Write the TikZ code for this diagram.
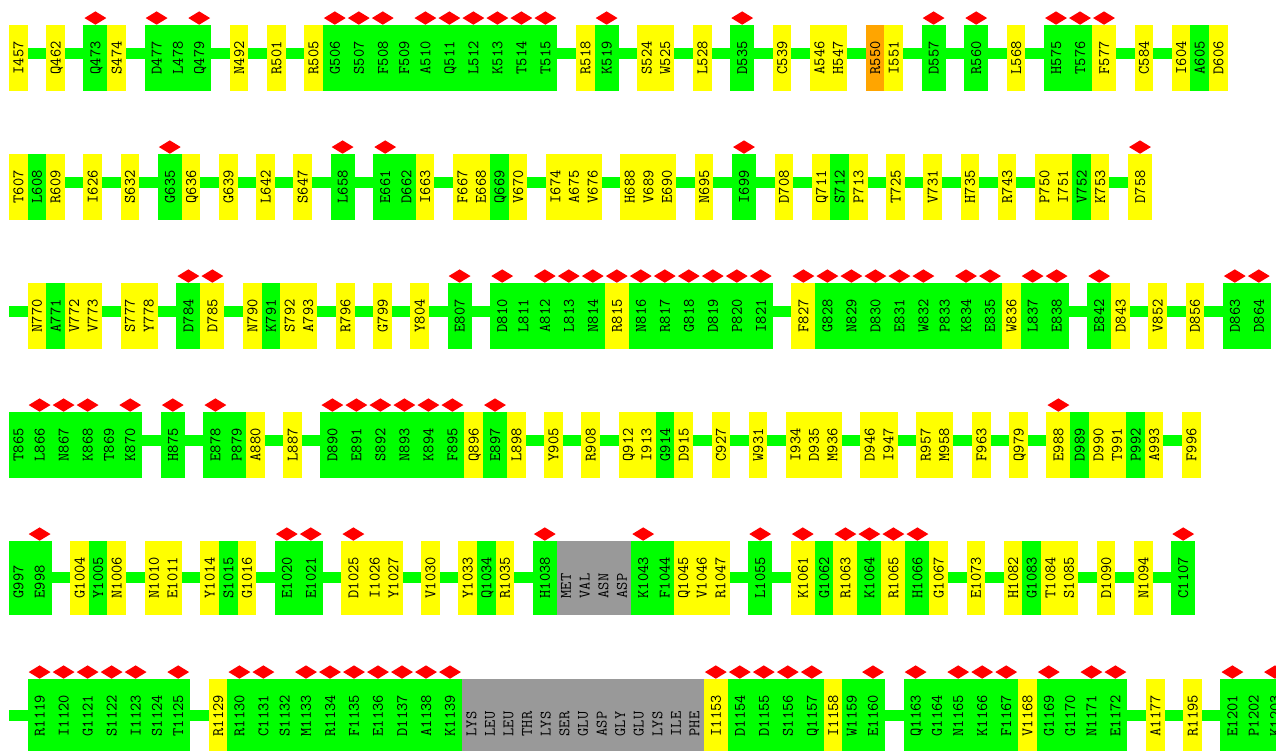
\documentclass[tikz,border=0pt]{standalone}
\usepackage{graphicx}
\usepackage{xcolor}
\usepackage{tikz}
\usetikzlibrary{positioning,shapes.geometric,backgrounds}

\definecolor{resgreen}{RGB}{0,255,0}
\definecolor{resyellow}{RGB}{255,255,0}
\definecolor{resorange}{RGB}{255,165,0}
\definecolor{resgray}{RGB}{153,153,153}

\newcommand{\rlab}[1]{\rotatebox{90}{\raisebox{0pt}[\height][0pt]{#1}}}

\tikzset{
  res/.style={rectangle,inner sep=0pt,outer sep=0pt,minimum width=18.6pt,minimum height=66pt,
    text height=32.5pt,text depth=0pt,font=\fontsize{16}{16}\selectfont\ttfamily,label distance=0.7pt},
  resl/.style={res,minimum height=74pt,text height=40.5pt},
  grn/.style={fill=resgreen},
  yel/.style={fill=resyellow},
  org/.style={fill=resorange},
  gry/.style={fill=resgray,text=black},
  hit/.style={minimum width=24pt,label={[contact]north:}},
  contact/.style={diamond,fill=red,inner sep=0pt,minimum width=22pt,minimum height=13.5pt},
  backbone/.style={draw=resgreen,line width=11pt}
}

\begin{document}
\begin{tikzpicture}[x=1pt,y=1pt,node distance=0pt]
  \useasboundingbox (0,0) rectangle (1276,-751);
  % row 1
  \node[res,yel,anchor=north west] (I457) at (9,-25) {\rlab{I457}};
  \node[res,yel,right=18.6pt of I457] (Q462) {\rlab{Q462}};
  \node[res,grn,hit,right=18.6pt of Q462] (Q473) {\rlab{Q473}};
  \node[res,yel,right=of Q473] (S474) {\rlab{S474}};
  \node[res,grn,hit,right=18.6pt of S474] (D477) {\rlab{D477}};
  \node[res,grn,right=of D477] (L478) {\rlab{L478}};
  \node[res,grn,hit,right=of L478] (Q479) {\rlab{Q479}};
  \node[res,yel,right=18.6pt of Q479] (N492) {\rlab{N492}};
  \node[res,yel,right=18.6pt of N492] (R501) {\rlab{R501}};
  \node[res,yel,right=18.6pt of R501] (R505) {\rlab{R505}};
  \node[res,grn,hit,right=of R505] (G506) {\rlab{G506}};
  \node[res,grn,hit,right=of G506] (S507) {\rlab{S507}};
  \node[res,grn,hit,right=of S507] (F508) {\rlab{F508}};
  \node[res,grn,right=of F508] (F509) {\rlab{F509}};
  \node[res,grn,hit,right=of F509] (A510) {\rlab{A510}};
  \node[res,grn,hit,right=of A510] (Q511) {\rlab{Q511}};
  \node[res,grn,hit,right=of Q511] (L512) {\rlab{L512}};
  \node[res,grn,hit,right=of L512] (K513) {\rlab{K513}};
  \node[res,grn,hit,right=of K513] (T514) {\rlab{T514}};
  \node[res,grn,hit,right=of T514] (T515) {\rlab{T515}};
  \node[res,yel,right=18.6pt of T515] (R518) {\rlab{R518}};
  \node[res,grn,hit,right=of R518] (K519) {\rlab{K519}};
  \node[res,yel,right=18.6pt of K519] (S524) {\rlab{S524}};
  \node[res,yel,right=of S524] (W525) {\rlab{W525}};
  \node[res,yel,right=18.6pt of W525] (L528) {\rlab{L528}};
  \node[res,grn,hit,right=18.6pt of L528] (D535) {\rlab{D535}};
  \node[res,yel,right=18.6pt of D535] (C539) {\rlab{C539}};
  \node[res,yel,right=18.6pt of C539] (A546) {\rlab{A546}};
  \node[res,yel,right=of A546] (H547) {\rlab{H547}};
  \node[res,org,right=18.6pt of H547] (R550) {\rlab{R550}};
  \node[res,yel,right=of R550] (I551) {\rlab{I551}};
  \node[res,grn,hit,right=18.6pt of I551] (D557) {\rlab{D557}};
  \node[res,grn,hit,right=18.6pt of D557] (R560) {\rlab{R560}};
  \node[res,yel,right=18.6pt of R560] (L568) {\rlab{L568}};
  \node[res,grn,hit,right=18.6pt of L568] (H575) {\rlab{H575}};
  \node[res,grn,hit,right=of H575] (T576) {\rlab{T576}};
  \node[res,yel,hit,right=of T576] (F577) {\rlab{F577}};
  \node[res,yel,right=18.6pt of F577] (C584) {\rlab{C584}};
  \node[res,yel,right=18.6pt of C584] (I604) {\rlab{I604}};
  \node[res,grn,right=of I604] (A605) {\rlab{A605}};
  \node[res,yel,right=of A605] (D606) {\rlab{D606}};
  % row 2
  \node[res,yel,anchor=north west] (T607) at (9,-154) {\rlab{T607}};
  \node[res,grn,right=of T607] (L608) {\rlab{L608}};
  \node[res,yel,right=of L608] (R609) {\rlab{R609}};
  \node[res,yel,right=18.6pt of R609] (I626) {\rlab{I626}};
  \node[res,yel,right=18.6pt of I626] (S632) {\rlab{S632}};
  \node[res,grn,hit,right=18.6pt of S632] (G635) {\rlab{G635}};
  \node[res,yel,right=of G635] (Q636) {\rlab{Q636}};
  \node[res,yel,right=18.6pt of Q636] (G639) {\rlab{G639}};
  \node[res,yel,right=18.6pt of G639] (L642) {\rlab{L642}};
  \node[res,yel,right=18.6pt of L642] (S647) {\rlab{S647}};
  \node[res,grn,hit,right=18.6pt of S647] (L658) {\rlab{L658}};
  \node[res,grn,hit,right=18.6pt of L658] (E661) {\rlab{E661}};
  \node[res,grn,right=of E661] (D662) {\rlab{D662}};
  \node[res,yel,right=of D662] (I663) {\rlab{I663}};
  \node[res,yel,right=18.6pt of I663] (F667) {\rlab{F667}};
  \node[res,yel,right=of F667] (E668) {\rlab{E668}};
  \node[res,grn,right=of E668] (Q669) {\rlab{Q669}};
  \node[res,yel,right=of Q669] (V670) {\rlab{V670}};
  \node[res,yel,right=18.6pt of V670] (I674) {\rlab{I674}};
  \node[res,yel,right=of I674] (A675) {\rlab{A675}};
  \node[res,yel,right=of A675] (V676) {\rlab{V676}};
  \node[res,yel,right=18.6pt of V676] (H688) {\rlab{H688}};
  \node[res,yel,right=of H688] (V689) {\rlab{V689}};
  \node[res,yel,right=of V689] (E690) {\rlab{E690}};
  \node[res,yel,right=18.6pt of E690] (N695) {\rlab{N695}};
  \node[res,grn,hit,right=18.6pt of N695] (I699) {\rlab{I699}};
  \node[res,yel,right=18.6pt of I699] (D708) {\rlab{D708}};
  \node[res,yel,right=18.6pt of D708] (Q711) {\rlab{Q711}};
  \node[res,grn,right=of Q711] (S712) {\rlab{S712}};
  \node[res,yel,right=of S712] (P713) {\rlab{P713}};
  \node[res,yel,right=18.6pt of P713] (T725) {\rlab{T725}};
  \node[res,yel,right=18.6pt of T725] (V731) {\rlab{V731}};
  \node[res,yel,right=18.6pt of V731] (H735) {\rlab{H735}};
  \node[res,yel,right=18.6pt of H735] (R743) {\rlab{R743}};
  \node[res,yel,right=18.6pt of R743] (P750) {\rlab{P750}};
  \node[res,yel,right=of P750] (I751) {\rlab{I751}};
  \node[res,grn,right=of I751] (V752) {\rlab{V752}};
  \node[res,yel,right=of V752] (K753) {\rlab{K753}};
  \node[res,yel,hit,right=18.6pt of K753] (D758) {\rlab{D758}};
  % row 3
  \node[res,yel,anchor=north west] (N770) at (27.6,-283) {\rlab{N770}};
  \node[res,grn,right=of N770] (A771) {\rlab{A771}};
  \node[res,yel,right=of A771] (V772) {\rlab{V772}};
  \node[res,yel,right=of V772] (V773) {\rlab{V773}};
  \node[res,yel,right=18.6pt of V773] (S777) {\rlab{S777}};
  \node[res,yel,right=of S777] (Y778) {\rlab{Y778}};
  \node[res,grn,hit,right=18.6pt of Y778] (D784) {\rlab{D784}};
  \node[res,yel,hit,right=of D784] (D785) {\rlab{D785}};
  \node[res,yel,right=18.6pt of D785] (N790) {\rlab{N790}};
  \node[res,grn,right=of N790] (K791) {\rlab{K791}};
  \node[res,yel,right=of K791] (S792) {\rlab{S792}};
  \node[res,yel,right=of S792] (A793) {\rlab{A793}};
  \node[res,yel,right=18.6pt of A793] (R796) {\rlab{R796}};
  \node[res,yel,right=18.6pt of R796] (G799) {\rlab{G799}};
  \node[res,yel,right=18.6pt of G799] (Y804) {\rlab{Y804}};
  \node[res,grn,hit,right=18.6pt of Y804] (E807) {\rlab{E807}};
  \node[res,grn,hit,right=18.6pt of E807] (D810) {\rlab{D810}};
  \node[res,grn,right=of D810] (L811) {\rlab{L811}};
  \node[res,grn,hit,right=of L811] (A812) {\rlab{A812}};
  \node[res,grn,hit,right=of A812] (L813) {\rlab{L813}};
  \node[res,grn,hit,right=of L813] (N814) {\rlab{N814}};
  \node[res,yel,hit,right=of N814] (R815) {\rlab{R815}};
  \node[res,grn,hit,right=of R815] (N816) {\rlab{N816}};
  \node[res,grn,hit,right=of N816] (R817) {\rlab{R817}};
  \node[res,grn,hit,right=of R817] (G818) {\rlab{G818}};
  \node[res,grn,hit,right=of G818] (D819) {\rlab{D819}};
  \node[res,grn,hit,right=of D819] (P820) {\rlab{P820}};
  \node[res,grn,hit,right=of P820] (I821) {\rlab{I821}};
  \node[res,yel,hit,right=18.6pt of I821] (F827) {\rlab{F827}};
  \node[res,grn,hit,right=of F827] (G828) {\rlab{G828}};
  \node[res,grn,hit,right=of G828] (N829) {\rlab{N829}};
  \node[res,grn,hit,right=of N829] (D830) {\rlab{D830}};
  \node[res,grn,hit,right=of D830] (E831) {\rlab{E831}};
  \node[res,grn,hit,right=of E831] (W832) {\rlab{W832}};
  \node[res,grn,right=of W832] (P833) {\rlab{P833}};
  \node[res,grn,hit,right=of P833] (K834) {\rlab{K834}};
  \node[res,grn,hit,right=of K834] (E835) {\rlab{E835}};
  \node[res,yel,right=of E835] (W836) {\rlab{W836}};
  \node[res,grn,hit,right=of W836] (L837) {\rlab{L837}};
  \node[res,grn,hit,right=of L837] (E838) {\rlab{E838}};
  \node[res,grn,hit,right=18.6pt of E838] (E842) {\rlab{E842}};
  \node[res,yel,right=of E842] (D843) {\rlab{D843}};
  \node[res,yel,right=18.6pt of D843] (V852) {\rlab{V852}};
  \node[res,yel,right=18.6pt of V852] (D856) {\rlab{D856}};
  \node[res,grn,hit,right=18.6pt of D856] (D863) {\rlab{D863}};
  \node[res,grn,hit,right=of D863] (D864) {\rlab{D864}};
  % row 4
  \node[res,grn,anchor=north west] (T865) at (9,-412) {\rlab{T865}};
  \node[res,grn,hit,right=of T865] (L866) {\rlab{L866}};
  \node[res,grn,hit,right=of L866] (N867) {\rlab{N867}};
  \node[res,grn,hit,right=of N867] (K868) {\rlab{K868}};
  \node[res,grn,right=of K868] (T869) {\rlab{T869}};
  \node[res,grn,hit,right=of T869] (K870) {\rlab{K870}};
  \node[res,grn,hit,right=18.6pt of K870] (H875) {\rlab{H875}};
  \node[res,grn,hit,right=18.6pt of H875] (E878) {\rlab{E878}};
  \node[res,grn,right=of E878] (P879) {\rlab{P879}};
  \node[res,yel,right=of P879] (A880) {\rlab{A880}};
  \node[res,yel,right=18.6pt of A880] (L887) {\rlab{L887}};
  \node[res,grn,hit,right=18.6pt of L887] (D890) {\rlab{D890}};
  \node[res,grn,hit,right=of D890] (E891) {\rlab{E891}};
  \node[res,grn,hit,right=of E891] (S892) {\rlab{S892}};
  \node[res,grn,hit,right=of S892] (N893) {\rlab{N893}};
  \node[res,grn,hit,right=of N893] (K894) {\rlab{K894}};
  \node[res,grn,hit,right=of K894] (F895) {\rlab{F895}};
  \node[res,yel,right=of F895] (Q896) {\rlab{Q896}};
  \node[res,grn,hit,right=of Q896] (E897) {\rlab{E897}};
  \node[res,yel,right=of E897] (L898) {\rlab{L898}};
  \node[res,yel,right=18.6pt of L898] (Y905) {\rlab{Y905}};
  \node[res,yel,right=18.6pt of Y905] (R908) {\rlab{R908}};
  \node[res,yel,right=18.6pt of R908] (Q912) {\rlab{Q912}};
  \node[res,yel,right=of Q912] (I913) {\rlab{I913}};
  \node[res,grn,right=of I913] (G914) {\rlab{G914}};
  \node[res,yel,right=of G914] (D915) {\rlab{D915}};
  \node[res,yel,right=18.6pt of D915] (C927) {\rlab{C927}};
  \node[res,yel,right=18.6pt of C927] (W931) {\rlab{W931}};
  \node[res,yel,right=18.6pt of W931] (I934) {\rlab{I934}};
  \node[res,yel,right=of I934] (D935) {\rlab{D935}};
  \node[res,yel,right=of D935] (M936) {\rlab{M936}};
  \node[res,yel,right=18.6pt of M936] (D946) {\rlab{D946}};
  \node[res,yel,right=of D946] (I947) {\rlab{I947}};
  \node[res,yel,right=18.6pt of I947] (R957) {\rlab{R957}};
  \node[res,yel,right=of R957] (M958) {\rlab{M958}};
  \node[res,yel,right=18.6pt of M958] (F963) {\rlab{F963}};
  \node[res,yel,right=18.6pt of F963] (Q979) {\rlab{Q979}};
  \node[res,yel,hit,right=18.6pt of Q979] (E988) {\rlab{E988}};
  \node[res,grn,right=of E988] (D989) {\rlab{D989}};
  \node[res,yel,right=of D989] (D990) {\rlab{D990}};
  \node[res,yel,right=of D990] (T991) {\rlab{T991}};
  \node[res,grn,right=of T991] (P992) {\rlab{P992}};
  \node[res,yel,right=of P992] (A993) {\rlab{A993}};
  \node[res,yel,right=18.6pt of A993] (F996) {\rlab{F996}};
  % row 5
  \node[resl,grn,anchor=north west] (G997) at (9,-541) {\rlab{G997}};
  \node[resl,grn,hit,right=of G997] (E998) {\rlab{E998}};
  \node[resl,yel,right=18.6pt of E998] (G1004) {\rlab{G1004}};
  \node[resl,grn,right=of G1004] (Y1005) {\rlab{Y1005}};
  \node[resl,yel,right=of Y1005] (N1006) {\rlab{N1006}};
  \node[resl,yel,right=18.6pt of N1006] (N1010) {\rlab{N1010}};
  \node[resl,yel,right=of N1010] (E1011) {\rlab{E1011}};
  \node[resl,yel,right=18.6pt of E1011] (Y1014) {\rlab{Y1014}};
  \node[resl,grn,right=of Y1014] (S1015) {\rlab{S1015}};
  \node[resl,yel,right=of S1015] (G1016) {\rlab{G1016}};
  \node[resl,grn,hit,right=18.6pt of G1016] (E1020) {\rlab{E1020}};
  \node[resl,grn,hit,right=of E1020] (E1021) {\rlab{E1021}};
  \node[resl,yel,hit,right=18.6pt of E1021] (D1025) {\rlab{D1025}};
  \node[resl,yel,right=of D1025] (I1026) {\rlab{I1026}};
  \node[resl,yel,right=of I1026] (Y1027) {\rlab{Y1027}};
  \node[resl,yel,right=18.6pt of Y1027] (V1030) {\rlab{V1030}};
  \node[resl,yel,right=18.6pt of V1030] (Y1033) {\rlab{Y1033}};
  \node[resl,grn,right=of Y1033] (Q1034) {\rlab{Q1034}};
  \node[resl,yel,right=of Q1034] (R1035) {\rlab{R1035}};
  \node[resl,grn,hit,right=18.6pt of R1035] (H1038) {\rlab{H1038}};
  \node[resl,gry,right=of H1038] (M1039) {\rlab{MET}};
  \node[resl,gry,right=of M1039] (V1040) {\rlab{VAL}};
  \node[resl,gry,right=of V1040] (N1041) {\rlab{ASN}};
  \node[resl,gry,right=of N1041] (D1042) {\rlab{ASP}};
  \node[resl,grn,hit,right=of D1042] (K1043) {\rlab{K1043}};
  \node[resl,grn,right=of K1043] (F1044) {\rlab{F1044}};
  \node[resl,yel,right=of F1044] (Q1045) {\rlab{Q1045}};
  \node[resl,yel,right=of Q1045] (V1046) {\rlab{V1046}};
  \node[resl,yel,right=of V1046] (R1047) {\rlab{R1047}};
  \node[resl,grn,hit,right=18.6pt of R1047] (L1055) {\rlab{L1055}};
  \node[resl,yel,hit,right=18.6pt of L1055] (K1061) {\rlab{K1061}};
  \node[resl,grn,right=of K1061] (G1062) {\rlab{G1062}};
  \node[resl,yel,hit,right=of G1062] (R1063) {\rlab{R1063}};
  \node[resl,grn,hit,right=of R1063] (K1064) {\rlab{K1064}};
  \node[resl,yel,hit,right=of K1064] (R1065) {\rlab{R1065}};
  \node[resl,grn,hit,right=of R1065] (H1066) {\rlab{H1066}};
  \node[resl,yel,right=of H1066] (G1067) {\rlab{G1067}};
  \node[resl,yel,right=18.6pt of G1067] (E1073) {\rlab{E1073}};
  \node[resl,yel,right=18.6pt of E1073] (H1082) {\rlab{H1082}};
  \node[resl,grn,right=of H1082] (G1083) {\rlab{G1083}};
  \node[resl,yel,right=of G1083] (T1084) {\rlab{T1084}};
  \node[resl,yel,right=of T1084] (S1085) {\rlab{S1085}};
  \node[resl,yel,right=18.6pt of S1085] (D1090) {\rlab{D1090}};
  \node[resl,yel,right=18.6pt of D1090] (N1094) {\rlab{N1094}};
  \node[resl,grn,hit,right=18.6pt of N1094] (C1107) {\rlab{C1107}};
  % row 6
  \node[resl,grn,hit,anchor=north west] (R1119) at (27.6,-679) {\rlab{R1119}};
  \node[resl,grn,hit,right=of R1119] (I1120) {\rlab{I1120}};
  \node[resl,grn,hit,right=of I1120] (G1121) {\rlab{G1121}};
  \node[resl,grn,hit,right=of G1121] (S1122) {\rlab{S1122}};
  \node[resl,grn,hit,right=of S1122] (I1123) {\rlab{I1123}};
  \node[resl,grn,right=of I1123] (S1124) {\rlab{S1124}};
  \node[resl,grn,hit,right=of S1124] (T1125) {\rlab{T1125}};
  \node[resl,yel,right=18.6pt of T1125] (R1129) {\rlab{R1129}};
  \node[resl,grn,hit,right=of R1129] (R1130) {\rlab{R1130}};
  \node[resl,grn,hit,right=of R1130] (C1131) {\rlab{C1131}};
  \node[resl,grn,right=of C1131] (S1132) {\rlab{S1132}};
  \node[resl,grn,hit,right=of S1132] (M1133) {\rlab{M1133}};
  \node[resl,grn,hit,right=of M1133] (R1134) {\rlab{R1134}};
  \node[resl,grn,hit,right=of R1134] (F1135) {\rlab{F1135}};
  \node[resl,grn,hit,right=of F1135] (E1136) {\rlab{E1136}};
  \node[resl,grn,hit,right=of E1136] (D1137) {\rlab{D1137}};
  \node[resl,grn,hit,right=of D1137] (A1138) {\rlab{A1138}};
  \node[resl,grn,hit,right=of A1138] (K1139) {\rlab{K1139}};
  \node[resl,gry,right=of K1139] (K1140) {\rlab{LYS}};
  \node[resl,gry,right=of K1140] (L1141) {\rlab{LEU}};
  \node[resl,gry,right=of L1141] (L1142) {\rlab{LEU}};
  \node[resl,gry,right=of L1142] (T1143) {\rlab{THR}};
  \node[resl,gry,right=of T1143] (K1144) {\rlab{LYS}};
  \node[resl,gry,right=of K1144] (S1145) {\rlab{SER}};
  \node[resl,gry,right=of S1145] (E1146) {\rlab{GLU}};
  \node[resl,gry,right=of E1146] (D1147) {\rlab{ASP}};
  \node[resl,gry,right=of D1147] (G1148) {\rlab{GLY}};
  \node[resl,gry,right=of G1148] (E1149) {\rlab{GLU}};
  \node[resl,gry,right=of E1149] (K1150) {\rlab{LYS}};
  \node[resl,gry,right=of K1150] (I1151) {\rlab{ILE}};
  \node[resl,gry,right=of I1151] (F1152) {\rlab{PHE}};
  \node[resl,yel,hit,right=of F1152] (I1153) {\rlab{I1153}};
  \node[resl,grn,hit,right=of I1153] (D1154) {\rlab{D1154}};
  \node[resl,grn,hit,right=of D1154] (D1155) {\rlab{D1155}};
  \node[resl,grn,hit,right=of D1155] (S1156) {\rlab{S1156}};
  \node[resl,grn,hit,right=of S1156] (Q1157) {\rlab{Q1157}};
  \node[resl,yel,right=of Q1157] (I1158) {\rlab{I1158}};
  \node[resl,grn,right=of I1158] (W1159) {\rlab{W1159}};
  \node[resl,grn,hit,right=of W1159] (E1160) {\rlab{E1160}};
  \node[resl,grn,hit,right=18.6pt of E1160] (Q1163) {\rlab{Q1163}};
  \node[resl,grn,right=of Q1163] (G1164) {\rlab{G1164}};
  \node[resl,grn,hit,right=of G1164] (N1165) {\rlab{N1165}};
  \node[resl,grn,hit,right=of N1165] (K1166) {\rlab{K1166}};
  \node[resl,grn,hit,right=of K1166] (F1167) {\rlab{F1167}};
  \node[resl,yel,right=of F1167] (V1168) {\rlab{V1168}};
  \node[resl,grn,hit,right=of V1168] (G1169) {\rlab{G1169}};
  \node[resl,grn,right=of G1169] (G1170) {\rlab{G1170}};
  \node[resl,grn,hit,right=of G1170] (N1171) {\rlab{N1171}};
  \node[resl,grn,hit,right=of N1171] (E1172) {\rlab{E1172}};
  \node[resl,yel,right=18.6pt of E1172] (A1177) {\rlab{A1177}};
  \node[resl,yel,right=18.6pt of A1177] (R1195) {\rlab{R1195}};
  \node[resl,grn,hit,right=18.6pt of R1195] (E1201) {\rlab{E1201}};
  \node[resl,grn,right=of E1201] (P1202) {\rlab{P1202}};
  \node[resl,grn,hit,right=of P1202] (K1203) {\rlab{K1203}};
  % chain lines behind the residues
  \coordinate (lead3) at ([xshift=-18.6pt,yshift=37.5pt]N770.south west);
  \coordinate (lead6) at ([xshift=-18.6pt,yshift=37.5pt]R1119.south west);
  \begin{pgfonlayer}{background}
    \draw[backbone] ([yshift=37.5pt]I457.south) -- ([yshift=37.5pt]D606.south);
    \draw[backbone] ([yshift=37.5pt]T607.south) -- ([yshift=37.5pt]D758.south);
    \draw[backbone] (lead3) -- ([yshift=37.5pt]D864.south);
    \draw[backbone] ([yshift=37.5pt]T865.south) -- ([yshift=37.5pt]F996.south);
    \draw[backbone] ([yshift=37.5pt]G997.south) -- ([yshift=37.5pt]C1107.south);
    \draw[backbone] (lead6) -- ([yshift=37.5pt]K1203.south);
  \end{pgfonlayer}
\end{tikzpicture}
\end{document}
